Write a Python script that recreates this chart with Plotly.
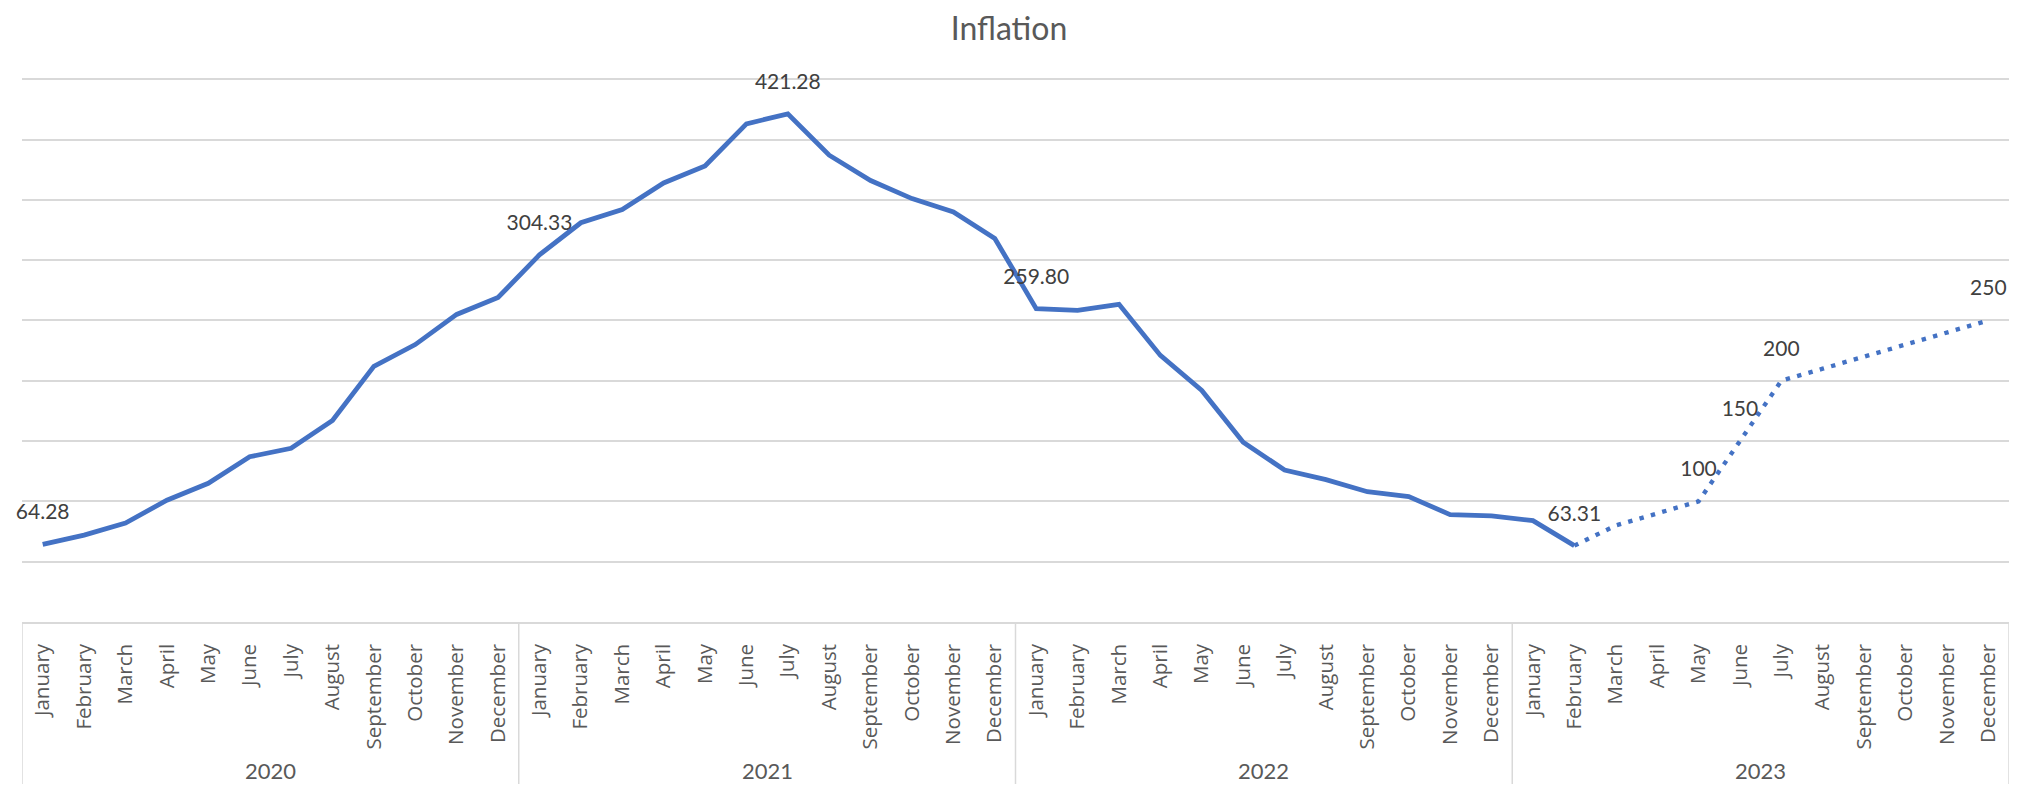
import plotly.graph_objects as go

# ---- data ----
years = ["2020", "2021", "2022", "2023"]
months = ["January", "February", "March", "April", "May", "June", "July",
          "August", "September", "October", "November", "December"]

# actual inflation, Jan 2020 .. Feb 2023
actual = [64.28, 72, 82, 101, 115, 137, 144, 167, 212, 230, 255, 269,
          304.33, 331, 342, 364, 378, 413, 421.28, 387, 366, 351, 340, 318,
          259.80, 258.4, 263.4, 221, 192, 149, 126, 118, 108, 104, 89, 88,
          84, 63.31]
# forecast, Feb 2023 .. Dec 2023
forecast = [63.31, 80, 90, 100, 150, 200, 210, 220, 230, 240, 250]

# which points carry a data label (indices into each series)
actual_labelled = [0, 12, 18, 24, 37]
forecast_labelled = [3, 4, 5, 10]

# ---- category positions (one slot per month) ----
n_cat = len(years) * len(months)
tick_text = [m for _ in years for m in months]
tick_pos = list(range(n_cat))
n_act = len(actual)
start_fc = n_act - 1
x_act = tick_pos[:n_act]
x_fc = tick_pos[start_fc:start_fc + len(forecast)]

BLUE = "#4472C4"
GRID = "#D9D9D9"

# layout geometry (pixels); the page adds an 8px body margin
W, H = 2002, 776
M_L, M_R, M_T, M_B = 14, 1, 70, 162
PLOT_H = H - M_T - M_B

fig = go.Figure()
fig.add_trace(go.Scatter(x=x_act, y=actual, mode="lines",
                         line=dict(color=BLUE, width=4.8), hoverinfo="skip",
                         showlegend=False))
fig.add_trace(go.Scatter(x=x_fc, y=forecast, mode="lines",
                         line=dict(color=BLUE, width=4.4, dash="4.4px,7.4px"),
                         hoverinfo="skip", showlegend=False))

# data labels
lx = [x_act[i] for i in actual_labelled]
ly = [actual[i] for i in actual_labelled]
lt = [f"{actual[i]:.2f}" for i in actual_labelled]
fx = [x_fc[i] for i in forecast_labelled]
fy = [forecast[i] for i in forecast_labelled]
ft = [f"{forecast[i]:g}" for i in forecast_labelled]

for xx, yy, tt in [(lx, ly, lt), (fx, fy, ft)]:
    fig.add_trace(go.Scatter(x=xx, y=yy, mode="markers+text", text=tt,
                             textposition="top center",
                             marker=dict(size=30, color="rgba(0,0,0,0)"),
                             textfont=dict(family="Lato", size=21, color="#404040"),
                             hoverinfo="skip", showlegend=False, cliponaxis=False))

# year group labels and dividers of the two-level category axis
shapes = []
annotations = []
n_m = len(months)
for k, yr in enumerate(years):
    annotations.append(dict(x=k * n_m + (n_m - 1) / 2, y=-148 / PLOT_H,
                            xref="x", yref="paper", text=yr, showarrow=False,
                            xanchor="center", yanchor="middle",
                            font=dict(family="Lato", size=22, color="#595959")))
for k in range(len(years) + 1):
    shapes.append(dict(type="line", xref="x", yref="paper",
                       x0=k * n_m - 0.5, x1=k * n_m - 0.5,
                       y0=0, y1=-M_B / PLOT_H,
                       line=dict(color=GRID, width=1.5)))

fig.update_layout(
    width=W, height=H,
    paper_bgcolor="white", plot_bgcolor="white",
    margin=dict(l=M_L, r=M_R, t=M_T, b=M_B),
    title=dict(text="Inflation", x=0.5, xanchor="center", y=1 - 21 / H,
               yanchor="middle", font=dict(family="Lato", size=32, color="#595959")),
    xaxis=dict(range=[-0.5, n_cat - 0.5], tickmode="array", tickvals=tick_pos,
               ticktext=tick_text, tickangle=-90, showgrid=False,
               showline=True, linecolor=GRID, linewidth=1.5, zeroline=False,
               ticks="", ticklabelstandoff=12, automargin=False, fixedrange=True,
               tickfont=dict(family="Open Sans", size=20.5, color="#595959")),
    yaxis=dict(range=[0, 451], tickvals=[50 * i for i in range(1, 10)],
               showticklabels=False, showgrid=True,
               gridcolor=GRID, gridwidth=1.5, zeroline=False, showline=False,
               fixedrange=True),
    shapes=shapes,
    annotations=annotations,
)

fig.write_html("out.html")
